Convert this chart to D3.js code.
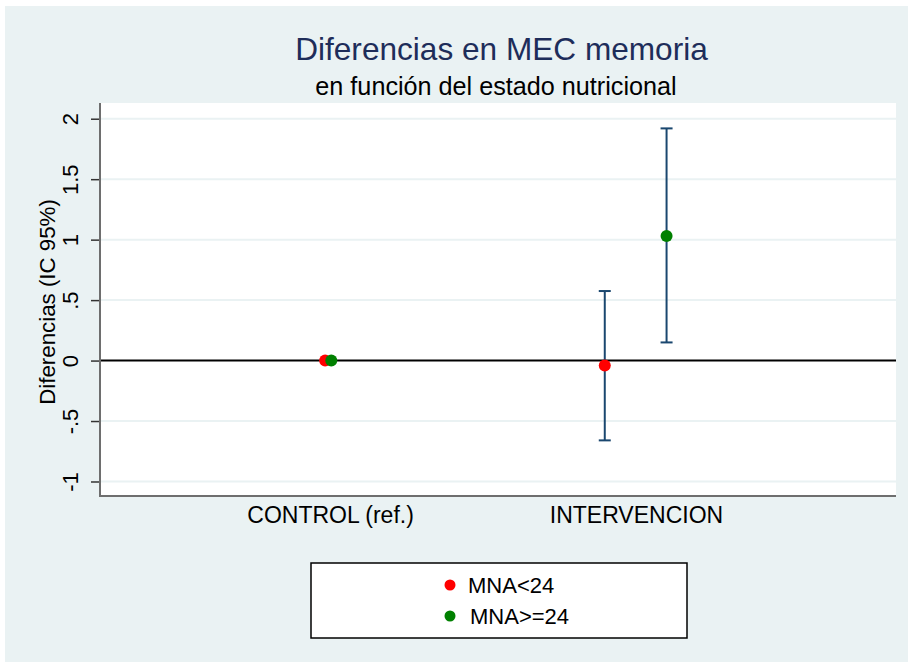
<!DOCTYPE html>
<html>
<head>
<meta charset="utf-8">
<script src="https://cdn.jsdelivr.net/npm/d3@7"></script>
<style>
  html, body { margin: 0; padding: 0; background: #ffffff; }
  svg { display: block; font-family: Arial, "Liberation Sans", Helvetica, sans-serif; }
</style>
</head>
<body>
<svg id="chart" width="908" height="662"></svg>
<script>
// ---- data ----
const categories = ["CONTROL (ref.)", "INTERVENCION"];
const categoryPos = [1, 2];
const seriesNames = ["MNA<24", "MNA>=24"];
const seriesColors = ["#ff0000", "#008000"];
// x positions (in category units) for each series
const lowX = [0.984, 1.898];
const highX = [1.004, 2.1];
// point estimates
const lowEst = [0, -0.04];
const highEst = [0, 1.03];
// 95% CI (null for reference category)
const lowLo = [null, -0.66];
const lowHi = [null, 0.575];
const highLo = [null, 0.15];
const highHi = [null, 1.92];
const yTicks = [-1, -0.5, 0, 0.5, 1, 1.5, 2];
const yTickLabels = ["-1", "-.5", "0", ".5", "1", "1.5", "2"];

const title = "Diferencias en MEC memoria";
const subtitle = "en función del estado nutricional";
const yTitle = "Diferencias (IC 95%)";

// ---- layout ----
const svg = d3.select("#chart");
const W = 908, H = 662;
const plot = { left: 100, right: 896, top: 103, bottom: 496 };
const bg = "#eaf2f3";
const navy = "#1a476f";

svg.append("rect").attr("x", 0).attr("y", 0).attr("width", W).attr("height", H).attr("fill", "#ffffff");
svg.append("rect").attr("x", 5).attr("y", 6).attr("width", W - 5).attr("height", H - 6).attr("fill", bg);
svg.append("rect").attr("x", plot.left).attr("y", plot.top)
  .attr("width", plot.right - plot.left).attr("height", plot.bottom - plot.top).attr("fill", "#ffffff");

const x = d3.scaleLinear().domain([0.248, 2.85]).range([plot.left, plot.right]);
const y = d3.scaleLinear().domain([-1.12, 2.13]).range([plot.bottom, plot.top]);

// grid
svg.append("g").selectAll("line").data(yTicks.filter(d => d !== 0)).join("line")
  .attr("x1", plot.left).attr("x2", plot.right)
  .attr("y1", d => y(d)).attr("y2", d => y(d))
  .attr("stroke", bg).attr("stroke-width", 2);

// zero reference line
svg.append("line").attr("x1", plot.left).attr("x2", plot.right)
  .attr("y1", y(0)).attr("y2", y(0)).attr("stroke", "#000").attr("stroke-width", 2);

// y axis
const yAxis = d3.axisLeft(y).tickValues(yTicks).tickFormat((d, i) => yTickLabels[i])
  .tickSize(9).tickSizeOuter(0).tickPadding(0);
const gy = svg.append("g").attr("transform", `translate(${plot.left},0)`).call(yAxis);
gy.select(".domain").remove();
gy.selectAll(".tick line").attr("stroke", "#333").attr("stroke-width", 1.5);
gy.selectAll(".tick text")
  .attr("x", null).attr("dy", null)
  .attr("transform", "translate(-22,0) rotate(-90)")
  .attr("text-anchor", "middle")
  .attr("font-size", 22).attr("fill", "#000")
  .attr("font-family", "Arial, 'Liberation Sans', sans-serif");
svg.append("line").attr("x1", plot.left).attr("x2", plot.left)
  .attr("y1", plot.top).attr("y2", plot.bottom + 1).attr("stroke", "#6e6e6e").attr("stroke-width", 2);

// x axis
const xAxis = d3.axisBottom(x).tickValues(categoryPos).tickFormat((d, i) => categories[i])
  .tickSize(0).tickSizeOuter(0).tickPadding(0);
const gx = svg.append("g").attr("transform", `translate(0,${plot.bottom})`).call(xAxis);
gx.select(".domain").remove();
gx.selectAll(".tick text").attr("y", 27).attr("dy", null)
  .attr("font-size", 23).attr("fill", "#000")
  .attr("font-family", "Arial, 'Liberation Sans', sans-serif");
svg.append("line").attr("x1", plot.left - 1).attr("x2", plot.right)
  .attr("y1", plot.bottom).attr("y2", plot.bottom).attr("stroke", "#6e6e6e").attr("stroke-width", 2);

// error bars
const series = [
  { xs: lowX, est: lowEst, lo: lowLo, hi: lowHi, color: seriesColors[0] },
  { xs: highX, est: highEst, lo: highLo, hi: highHi, color: seriesColors[1] }
];
const capW = 6;
series.forEach(s => {
  const rows = s.xs.map((xv, i) => ({ x: xv, est: s.est[i], lo: s.lo[i], hi: s.hi[i] }))
    .filter(d => d.lo !== null);
  const g = svg.append("g");
  g.selectAll(".v").data(rows).join("line")
    .attr("x1", d => x(d.x)).attr("x2", d => x(d.x))
    .attr("y1", d => y(d.lo)).attr("y2", d => y(d.hi))
    .attr("stroke", navy).attr("stroke-width", 2);
  g.selectAll(".t").data(rows).join("line")
    .attr("x1", d => x(d.x) - capW).attr("x2", d => x(d.x) + capW)
    .attr("y1", d => y(d.hi)).attr("y2", d => y(d.hi))
    .attr("stroke", navy).attr("stroke-width", 2);
  g.selectAll(".b").data(rows).join("line")
    .attr("x1", d => x(d.x) - capW).attr("x2", d => x(d.x) + capW)
    .attr("y1", d => y(d.lo)).attr("y2", d => y(d.lo))
    .attr("stroke", navy).attr("stroke-width", 2);
});
// points
series.forEach(s => {
  const rows = s.xs.map((xv, i) => ({ x: xv, est: s.est[i] }));
  svg.append("g").selectAll("circle").data(rows).join("circle")
    .attr("cx", d => x(d.x)).attr("cy", d => y(d.est)).attr("r", 6)
    .attr("fill", s.color);
});

// titles
svg.append("text").attr("x", 501.5).attr("y", 60).attr("text-anchor", "middle")
  .attr("font-size", 31.6).attr("fill", "#1e2d5a").text(title);
svg.append("text").attr("x", 496).attr("y", 95).attr("text-anchor", "middle")
  .attr("font-size", 25.2).attr("fill", "#000").text(subtitle);
svg.append("text").attr("transform", "translate(55,302) rotate(-90)").attr("text-anchor", "middle")
  .attr("font-size", 22.3).attr("fill", "#000").text(yTitle);

// legend
const lg = svg.append("g");
lg.append("rect").attr("x", 311).attr("y", 563).attr("width", 376).attr("height", 75)
  .attr("fill", "#ffffff").attr("stroke", "#000").attr("stroke-width", 1.5);
const legRows = seriesNames.map((n, i) => ({ name: n, color: seriesColors[i], i }));
lg.selectAll("circle").data(legRows).join("circle")
  .attr("cx", 450).attr("cy", d => 585 + d.i * 31).attr("r", 5.5).attr("fill", d => d.color);
lg.selectAll("text").data(legRows).join("text")
  .attr("x", d => 468 + d.i * 2).attr("y", d => 593 + d.i * 31)
  .attr("font-size", 22).attr("fill", "#000").text(d => d.name);
</script>
</body>
</html>
